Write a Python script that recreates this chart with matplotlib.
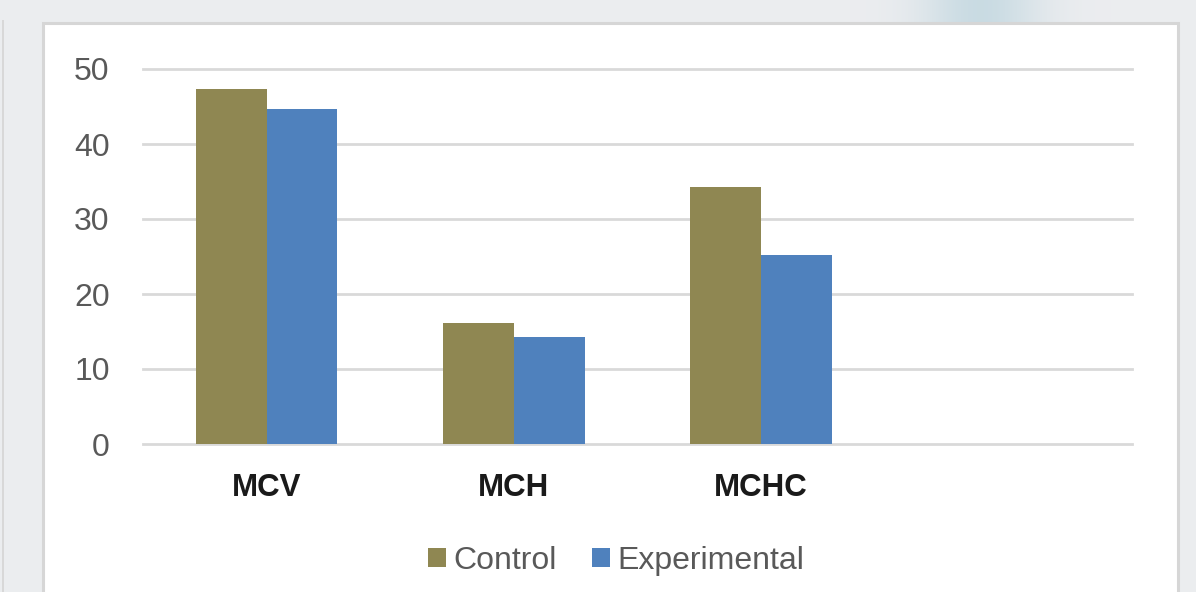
import numpy as np
import matplotlib
matplotlib.use("Agg")
import matplotlib.pyplot as plt
from matplotlib.patches import Rectangle, Patch

categories = ["MCV", "MCH", "MCHC"]
series_names = ["Control", "Experimental"]
control = [47.3, 16.1, 34.3]
experimental = [44.7, 14.3, 25.2]
y_ticks = [0, 10, 20, 30, 40, 50]

colors = {"Control": "#8F8752", "Experimental": "#4F81BD"}
W, H = 1196, 592
fig = plt.figure(figsize=(W / 100, H / 100), dpi=100)
fig.patch.set_facecolor("#eceef1")

# soft backdrop behind the chart panel
bg = fig.add_axes([0, 0, 1, 1], zorder=-10)
bg.set_axis_off()
xs = np.linspace(0, 1, W)
base = np.array([0.925, 0.93, 0.94])
blue = np.array([0.79, 0.86, 0.89])
w = np.exp(-((xs - 0.82) / 0.05) ** 2)
row = base[None, :] * (1 - w[:, None]) + blue[None, :] * w[:, None]
ys = np.linspace(0, 1, H)
fade = np.clip((ys - 0.93) / 0.025, 0, 1)  # top band only
img = np.ones((H, W, 3)) * base
img = img * (1 - fade[:, None, None]) + row[None, :, :] * fade[:, None, None]
bg.imshow(img, extent=[0, 1, 0, 1], aspect="auto", origin="lower")
bg.set_xlim(0, 1)
bg.set_ylim(0, 1)

# left neighbour panel edge
fig.patches.append(Rectangle((2 / W, -0.01), 2 / W, (H - 20) / H + 0.01, transform=fig.transFigure,
                             facecolor="#d8d8d8", edgecolor="none", zorder=-5))
# white chart panel
fig.patches.append(Rectangle((43.5 / W, -0.02), (1177.5 - 43.5) / W, (H - 22.5) / H + 0.02,
                             transform=fig.transFigure, facecolor="white",
                             edgecolor="#d6d6d6", linewidth=2.2, zorder=-4))

ax = fig.add_axes([143 / W, (H - 444) / H, (1132 - 143) / W, (444 - 69) / H])
ax.set_facecolor("none")
x = np.arange(len(categories))
bw = 0.286
ax.bar(x - bw / 2, control, width=bw, color=colors["Control"], zorder=3)
ax.bar(x + bw / 2, experimental, width=bw, color=colors["Experimental"], zorder=3)

ax.set_xlim(-0.5, 3.5)
ax.set_ylim(0, 50)
ax.set_yticks(y_ticks)
ax.set_yticklabels([str(t) for t in y_ticks], fontsize=23, color="#595959", family="Liberation Sans")
ax.tick_params(axis="y", length=0, pad=24)
ax.set_xticks(x)
ax.set_xticklabels(categories, fontsize=22.5, fontweight="bold", color="#1a1a1a", family="Liberation Sans")
ax.tick_params(axis="x", length=0, pad=21)
ax.grid(axis="y", color="#d9d9d9", linewidth=2, zorder=0)
for gl in ax.get_ygridlines():
    gl.set_clip_on(False)
for s in ax.spines.values():
    s.set_visible(False)

handles = [Patch(facecolor=colors[n], edgecolor="none") for n in series_names]
leg = fig.legend(handles, series_names, loc="center", bbox_to_anchor=(616.5 / W, (H - 561) / H),
                 ncol=2, frameon=False, prop={"family": "Liberation Sans", "size": 23},
                 handlelength=0.55, handleheight=0.55, handletextpad=0.25, columnspacing=1.1)
for t in leg.get_texts():
    t.set_color("#595959")

fig.savefig("out.png", dpi=100, facecolor=fig.get_facecolor())
